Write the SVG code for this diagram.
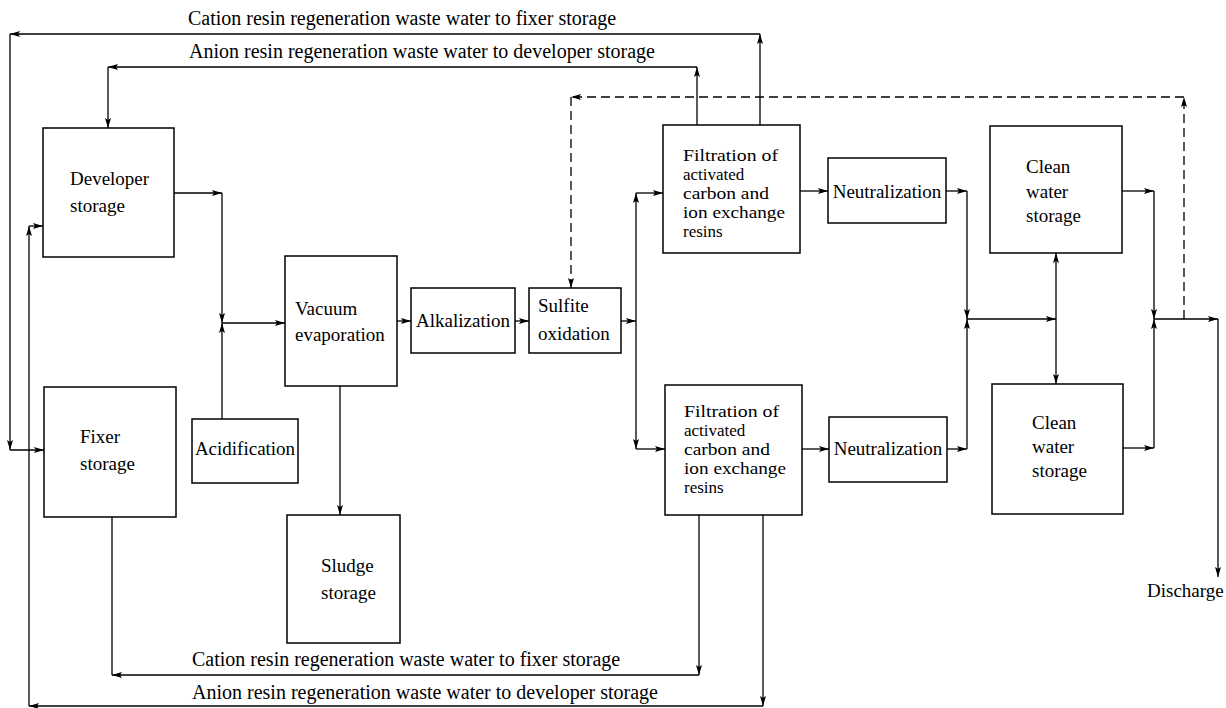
<svg xmlns="http://www.w3.org/2000/svg" width="1226" height="708" viewBox="0 0 1226 708">
<defs>
<marker id="ah" viewBox="0 0 10 6" markerWidth="10" markerHeight="6" refX="10" refY="3" orient="auto" markerUnits="userSpaceOnUse">
<path d="M0,0 L10,3 L0,6 L2,3 z" fill="#000"/>
</marker>
<style>
.box{fill:#fff;stroke:#000;stroke-width:1.5}
.t{font-family:"Liberation Serif","Times New Roman",serif;font-size:19px;fill:#000}
.f{font-family:"Liberation Serif","Times New Roman",serif;font-size:17px;fill:#000}
.lb{font-family:"Liberation Serif","Times New Roman",serif;font-size:20px;fill:#000}
.c{text-anchor:middle}
.ln{fill:none;stroke:#000;stroke-width:1.3}
.a{marker-end:url(#ah)}
.d{stroke-dasharray:9 5}
</style>
</defs>
<rect width="1226" height="708" fill="#fff"/>
<g id="connectors">
<path class="ln a" d="M760,125 L760,34"/>
<path class="ln a" d="M760,34 L10,34"/>
<path class="ln a" d="M10,34 L10,450"/>
<path class="ln a" d="M10,450 L44,450"/>
<path class="ln a" d="M697,125 L697,67"/>
<path class="ln a" d="M697,67 L108,67"/>
<path class="ln a" d="M108,67 L108,128"/>
<path class="ln a" d="M174,193 L222,193"/>
<path class="ln a" d="M222,193 L222,323"/>
<path class="ln a" d="M222,419 L222,323"/>
<path class="ln a" d="M222,323 L285,323"/>
<path class="ln a" d="M397,321 L411,321"/>
<path class="ln a" d="M515,321 L529,321"/>
<path class="ln a" d="M621,321 L636,321"/>
<path class="ln a" d="M636,321 L636,193"/>
<path class="ln a" d="M636,193 L663,193"/>
<path class="ln a" d="M636,321 L636,449"/>
<path class="ln a" d="M636,449 L665,449"/>
<path class="ln a" d="M800,191 L828,191"/>
<path class="ln a" d="M802,449 L829,449"/>
<path class="ln a" d="M946,191 L967,191"/>
<path class="ln a" d="M967,191 L967,319"/>
<path class="ln a" d="M947,449 L967,449"/>
<path class="ln a" d="M967,449 L967,319"/>
<path class="ln a" d="M967,319 L1056,319"/>
<path class="ln a" d="M1056,319 L1056,253"/>
<path class="ln a" d="M1056,319 L1056,384"/>
<path class="ln a" d="M1122,191 L1154,191"/>
<path class="ln a" d="M1154,191 L1154,319"/>
<path class="ln a" d="M1123,448 L1154,448"/>
<path class="ln a" d="M1154,448 L1154,319"/>
<path class="ln a" d="M1154,319 L1218,319"/>
<path class="ln a" d="M1218,319 L1218,577"/>
<path class="ln d a" d="M1184,319 L1184,97"/>
<path class="ln d a" d="M1184,97 L571,97"/>
<path class="ln d a" d="M571,97 L571,288"/>
<path class="ln a" d="M340,386 L340,515"/>
<path class="ln a" d="M699,515 L699,675"/>
<path class="ln a" d="M699,675 L112,675"/>
<path class="ln" d="M112,675 L112,517"/>
<path class="ln a" d="M763,515 L763,706"/>
<path class="ln a" d="M763,706 L29,706"/>
<path class="ln a" d="M29,706 L29,226"/>
<path class="ln a" d="M29,226 L43,226"/>
</g>
<g id="labels">
<text class="lb" x="188" y="25">Cation resin regeneration waste water to fixer storage</text>
<text class="lb" x="189" y="58">Anion resin regeneration waste water to developer storage</text>
<text class="lb" x="192" y="666">Cation resin regeneration waste water to fixer storage</text>
<text class="lb" x="192" y="699">Anion resin regeneration waste water to developer storage</text>
<text class="t" x="1147" y="597">Discharge</text>
</g>
<g id="developer"><rect class="box" x="43" y="128" width="131" height="129"/><text class="t" x="70" y="185">Developer</text><text class="t" x="70" y="212">storage</text></g>
<g id="fixer"><rect class="box" x="44" y="387" width="132" height="130"/><text class="t" x="80" y="443">Fixer</text><text class="t" x="80" y="470">storage</text></g>
<g id="acidification"><rect class="box" x="192" y="419" width="106" height="64"/><text class="t c" x="245" y="455">Acidification</text></g>
<g id="vacuum"><rect class="box" x="285" y="256" width="112" height="130"/><text class="t" x="295" y="315">Vacuum</text><text class="t" x="295" y="341">evaporation</text></g>
<g id="sludge"><rect class="box" x="287" y="515" width="113" height="128"/><text class="t" x="321" y="572">Sludge</text><text class="t" x="321" y="599">storage</text></g>
<g id="alkalization"><rect class="box" x="411" y="288" width="104" height="65"/><text class="t c" x="463" y="327">Alkalization</text></g>
<g id="sulfite"><rect class="box" x="529" y="288" width="92" height="65"/><text class="t" x="538" y="312">Sulfite</text><text class="t" x="538" y="340">oxidation</text></g>
<g id="filter1"><rect class="box" x="663" y="125" width="137" height="128"/><text class="f" x="683" y="161" textLength="95" lengthAdjust="spacingAndGlyphs">Filtration of</text><text class="f" x="683" y="180">activated</text><text class="f" x="683" y="199" textLength="86" lengthAdjust="spacingAndGlyphs">carbon and</text><text class="f" x="683" y="218" textLength="102" lengthAdjust="spacingAndGlyphs">ion exchange</text><text class="f" x="683" y="237">resins</text></g>
<g id="filter2"><rect class="box" x="665" y="385" width="137" height="130"/><text class="f" x="684" y="417" textLength="95" lengthAdjust="spacingAndGlyphs">Filtration of</text><text class="f" x="684" y="436">activated</text><text class="f" x="684" y="455" textLength="86" lengthAdjust="spacingAndGlyphs">carbon and</text><text class="f" x="684" y="474" textLength="102" lengthAdjust="spacingAndGlyphs">ion exchange</text><text class="f" x="684" y="493">resins</text></g>
<g id="neutral1"><rect class="box" x="828" y="158" width="118" height="65"/><text class="t c" x="887" y="198">Neutralization</text></g>
<g id="neutral2"><rect class="box" x="829" y="417" width="118" height="65"/><text class="t c" x="888" y="455">Neutralization</text></g>
<g id="clean1"><rect class="box" x="990" y="126" width="132" height="127"/><text class="t" x="1026" y="173">Clean</text><text class="t" x="1026" y="198">water</text><text class="t" x="1026" y="222">storage</text></g>
<g id="clean2"><rect class="box" x="992" y="384" width="131" height="130"/><text class="t" x="1032" y="429">Clean</text><text class="t" x="1032" y="453">water</text><text class="t" x="1032" y="477">storage</text></g>
</svg>
